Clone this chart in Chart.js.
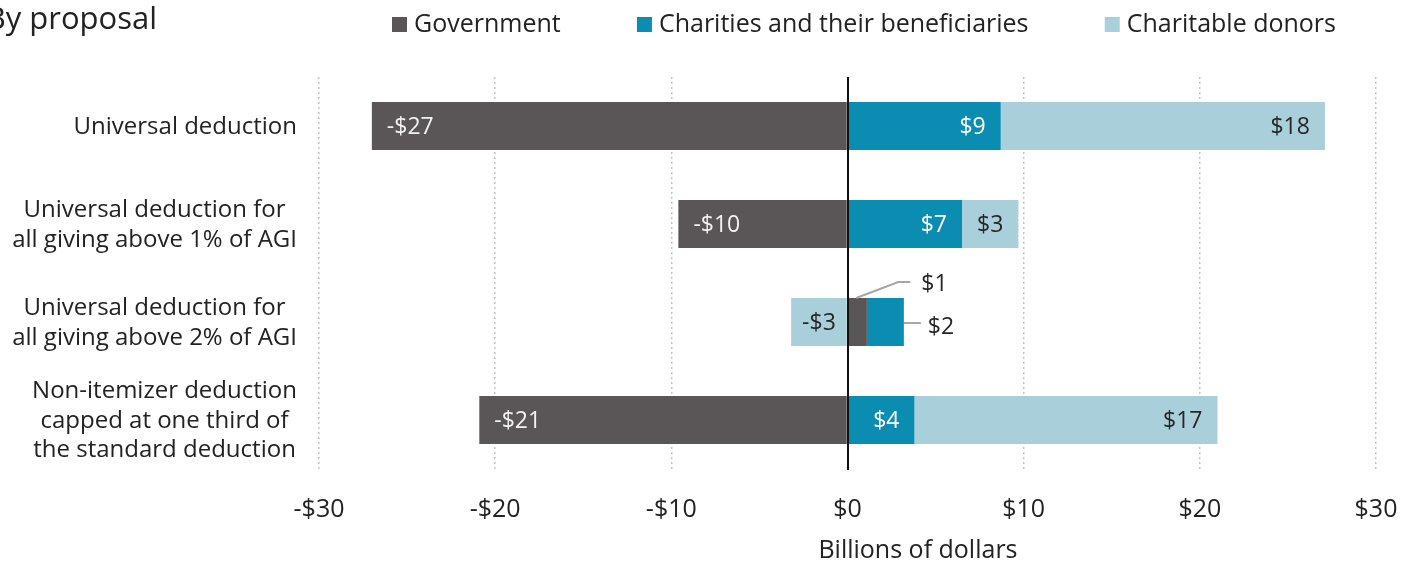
<!DOCTYPE html>
<html>
<head>
<meta charset="utf-8">
<script src="https://cdn.jsdelivr.net/npm/chart.js@4/dist/chart.umd.min.js"></script>
<style>
  html, body { margin: 0; padding: 0; background: #fff; }
  #wrap { width: 1414px; height: 562px; }
</style>
</head>
<body>
<div id="wrap"><canvas id="chart"></canvas></div>
<script>
// data (billions of dollars)
const proposals = [
    ['Universal deduction'],
    ['Universal deduction for', 'all giving above 1% of AGI'],
    ['Universal deduction for', 'all giving above 2% of AGI'],
    ['Non-itemizer deduction', 'capped at one third of', 'the standard deduction']
];
const seriesNames = ['Government', 'Charities and their beneficiaries', 'Charitable donors'];
const government = [-27.0, -9.6, 1.1, -20.9];
const charities = [8.7, 6.5, 2.1, 3.8];
const donors = [18.4, 3.2, -3.2, 17.2];
const xTicks = [-30, -20, -10, 0, 10, 20, 30];
const chartTitle = 'By proposal';
const axisTitle = 'Billions of dollars';

const colors = ['#5a5556', '#0b8db1', '#a9cfdb'];
const labelColors = ['#f2f2f2', '#ffffff', '#262626'];
const FONT = '"Open Sans"';

function money(v) {
    return (v < 0 ? '-' : '') + '$' + Math.round(Math.abs(v));
}

// small segments get their label outside with a leader line
const callouts = { '0-2': 'up', '1-2': 'right' };

const labelPlugin = {
    id: 'barLabels',
    afterDatasetsDraw(chart) {
        const { ctx, chartArea, scales } = chart;
        const x0 = Math.round(scales.x.getPixelForValue(0));
        ctx.save();
        // zero line
        ctx.strokeStyle = '#111';
        ctx.lineWidth = 2;
        ctx.beginPath();
        ctx.moveTo(x0, chartArea.top);
        ctx.lineTo(x0, chartArea.bottom + 1);
        ctx.stroke();

        ctx.font = '23px ' + FONT;
        ctx.textBaseline = 'middle';
        chart.data.datasets.forEach((ds, di) => {
            chart.getDatasetMeta(di).data.forEach((bar, i) => {
                const v = ds.data[i];
                const text = money(v);
                const left = Math.min(bar.x, bar.base);
                const right = Math.max(bar.x, bar.base);
                const top = bar.y - bar.height / 2;
                const tw = ctx.measureText(text).width;
                const mode = callouts[di + '-' + i];
                if (mode === 'up') {
                    ctx.strokeStyle = '#a6a6a6';
                    ctx.lineWidth = 2;
                    ctx.beginPath();
                    ctx.moveTo(left + 8, top);
                    ctx.lineTo(left + 50, top - 16);
                    ctx.lineTo(left + 62, top - 16);
                    ctx.stroke();
                    ctx.fillStyle = '#262626';
                    ctx.textAlign = 'left';
                    ctx.fillText(text, left + 73, top - 14);
                    return;
                }
                if (mode === 'right') {
                    ctx.strokeStyle = '#a6a6a6';
                    ctx.lineWidth = 2;
                    ctx.beginPath();
                    ctx.moveTo(right, bar.y + 1);
                    ctx.lineTo(right + 17, bar.y + 1);
                    ctx.stroke();
                    ctx.fillStyle = '#262626';
                    ctx.textAlign = 'left';
                    ctx.fillText(text, right + 24, bar.y + 5);
                    return;
                }
                const pad = Math.min(15, (right - left - tw) / 2);
                ctx.fillStyle = labelColors[di];
                if (v < 0) {
                    ctx.textAlign = 'left';
                    ctx.fillText(text, left + pad, bar.y + 1);
                } else {
                    ctx.textAlign = 'right';
                    ctx.fillText(text, right - pad, bar.y + 1);
                }
            });
        });
        ctx.restore();
    },
    afterDraw(chart) {
        const { ctx, scales } = chart;
        ctx.save();
        ctx.textBaseline = 'alphabetic';
        ctx.fillStyle = '#222';
        // title, cut at the left edge like the source
        ctx.font = '31px ' + FONT;
        ctx.textAlign = 'right';
        ctx.fillText(chartTitle, 157, 29);

        // legend
        ctx.font = '25px ' + FONT;
        ctx.textAlign = 'left';
        const startX = 392, endX = 1336, box = 15, gapBox = 7;
        const widths = seriesNames.map(n => box + gapBox + ctx.measureText(n).width);
        const gap = (endX - startX - widths.reduce((a, b) => a + b, 0)) / (seriesNames.length - 1);
        let cx = startX;
        seriesNames.forEach((n, k) => {
            ctx.fillStyle = colors[k];
            ctx.fillRect(cx, 17, box, box);
            ctx.fillStyle = '#222';
            ctx.fillText(n, cx + box + gapBox, 32);
            cx += widths[k] + gap;
        });

        // axis title sits a little right of zero in the source
        ctx.font = '25px ' + FONT;
        ctx.textAlign = 'center';
        ctx.fillText(axisTitle, scales.x.getPixelForValue(4), 558);

        // category labels: each block right-aligned, its lines centred on each other
        ctx.font = '24px ' + FONT;
        ctx.textBaseline = 'middle';
        const lineH = 29.5, rightEdge = scales.y.right - 22;
        proposals.forEach((lines, i) => {
            const y = scales.y.getPixelForTick(i);
            const w = Math.max(...lines.map(l => ctx.measureText(l).width));
            const mid = rightEdge - w / 2;
            lines.forEach((l, j) => {
                ctx.fillText(l, mid, y + 1 + (j - (lines.length - 1) / 2) * lineH);
            });
        });
        ctx.restore();
    }
};

new Chart(document.getElementById('chart'), {
    type: 'bar',
    data: {
        labels: proposals,
        datasets: [
            { label: seriesNames[0], data: government, backgroundColor: colors[0] },
            { label: seriesNames[1], data: charities, backgroundColor: colors[1] },
            { label: seriesNames[2], data: donors, backgroundColor: colors[2] }
        ]
    },
    options: {
        indexAxis: 'y',
        responsive: true,
        maintainAspectRatio: false,
        animation: false,
        layout: { padding: { top: 77, right: 38, left: 0, bottom: 0 } },
        datasets: { bar: { barPercentage: 0.49, categoryPercentage: 1 } },
        plugins: {
            legend: { display: false },
            tooltip: { enabled: false }
        },
        scales: {
            x: {
                stacked: true,
                min: -30,
                max: 30,
                afterBuildTicks: scale => { scale.ticks = xTicks.map(v => ({ value: v })); },
                afterFit: scale => {
                    scale.height = 93;
                    scale.paddingLeft = 0;
                    scale.paddingRight = 0;
                },
                grid: {
                    color: c => (c.tick && c.tick.value === 0) ? 'rgba(0,0,0,0)' : '#c4c4c4',
                    lineWidth: 1.5,
                    drawTicks: false
                },
                border: { display: false, dash: [2, 3] },
                ticks: {
                    padding: 26,
                    color: '#222',
                    font: { family: FONT, size: 25 },
                    callback: v => money(v)
                }
            },
            y: {
                stacked: true,
                afterFit: scale => { scale.width = 319; },
                grid: { display: false },
                border: { display: false },
                ticks: { display: false }
            }
        }
    },
    plugins: [labelPlugin]
});
</script>
</body>
</html>
